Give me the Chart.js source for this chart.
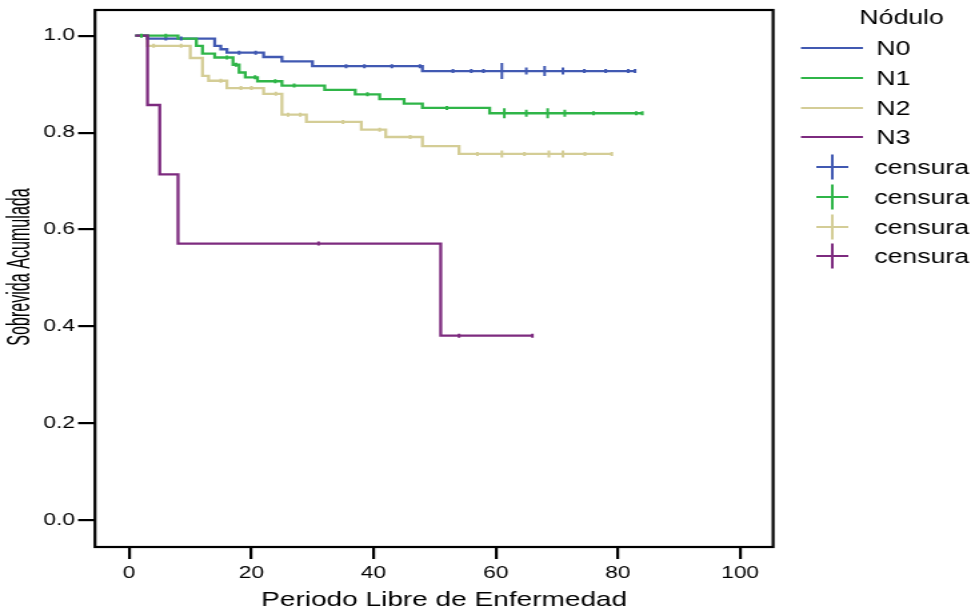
<!DOCTYPE html>
<html>
<head>
<meta charset="utf-8">
<script src="https://cdn.jsdelivr.net/npm/chart.js@4.4.1/dist/chart.umd.min.js"></script>
<style>
html,body{margin:0;padding:0;background:#fff;overflow:hidden;}
#wrap{position:absolute;left:0;top:0;width:734px;height:614px;transform:scaleX(1.33379);transform-origin:0 0;}
#c{display:block;width:734px;height:614px;}
</style>
</head>
<body>
<div id="wrap"><canvas id="c" width="734" height="614"></canvas></div>
<script>
// ---- data ----
const seriesNames = ["N0", "N1", "N2", "N3"];
const legendTitle = "Nódulo";
const censorLabel = "censura";
const xTitle = "Periodo Libre de Enfermedad";
const yTitle = "Sobrevida Acumulada";
const xTicks = [0, 20, 40, 60, 80, 100];
const yTicks = [0.0, 0.2, 0.4, 0.6, 0.8, 1.0];

// step curves: times and survival after each time
const n0Times = [1, 3, 14, 15, 16, 22, 25, 30, 48, 83];
const n0Surv  = [1.0, 0.994, 0.979, 0.972, 0.965, 0.956, 0.947, 0.937, 0.927, 0.927];
const n1Times = [1, 8, 11, 12, 14, 17, 18, 19, 21, 25, 32, 37, 41, 45, 48, 59, 84];
const n1Surv  = [1.0, 0.994, 0.979, 0.963, 0.955, 0.940, 0.924, 0.914, 0.906, 0.897, 0.888, 0.879, 0.869, 0.860, 0.851, 0.840, 0.840];
const n2Times = [1, 3, 10, 12, 13, 16, 22, 25, 29, 38, 42, 48, 54, 79];
const n2Surv  = [1.0, 0.979, 0.954, 0.917, 0.907, 0.892, 0.880, 0.837, 0.822, 0.806, 0.791, 0.772, 0.756, 0.756];
const n3Times = [1, 3, 5, 8, 51, 66];
const n3Surv  = [1.0, 0.857, 0.714, 0.571, 0.381, 0.381];

// censored observations (time) and how many coincide there
const n0Cens = [6, 8.5, 18, 20.7, 35.5, 38.5, 43, 47.6, 53, 56, 58, 61, 65, 68, 71, 74.5, 78, 81.7, 82.8];
const n0CensN = [1, 1, 1, 1, 1, 1, 1, 1, 1, 1, 1, 4, 2, 3, 2, 1, 1, 1, 1];
const n1Cens = [2, 6, 16, 17.5, 20.6, 23.9, 27, 39, 52, 61.4, 65, 68.5, 71.3, 76, 83, 84];
const n1CensN = [1, 1, 1, 1, 1, 1, 1, 1, 1, 3, 2, 3, 2, 1, 1, 1];
const n2Cens = [4, 8.5, 15, 18.3, 20, 24, 26, 28, 35, 41, 46, 57, 61, 64.7, 68.7, 71, 74.6, 79];
const n2CensN = [1, 1, 1, 1, 1, 1, 1, 1, 1, 1, 1, 1, 2, 1, 2, 2, 1, 1];
const n3Cens = [31, 54, 66];
const n3CensN = [1, 1, 1];

// ---- styling ----
const colors = ["#4159b2", "#2fb548", "#d4cd96", "#7d2b7f"];
const FONT = "'Liberation Sans', Arial, sans-serif";

function curve(times, surv) {
  return times.map((t, i) => ({ x: t, y: surv[i] }));
}
function survAt(times, surv, t) {
  let v = surv[0];
  for (let i = 0; i < times.length; i++) { if (times[i] <= t) v = surv[i]; }
  return v;
}
function censPoints(cens, times, surv) {
  return cens.map(t => ({ x: t, y: survAt(times, surv, t) }));
}
const sizeFor = [0, 2, 3.5, 5, 8];

const curves = [[n0Times, n0Surv], [n1Times, n1Surv], [n2Times, n2Surv], [n3Times, n3Surv]];
const cens = [[n0Cens, n0CensN], [n1Cens, n1CensN], [n2Cens, n2CensN], [n3Cens, n3CensN]];
const lineOrder = [2, 1, 3, 0];

const datasets = [];
curves.forEach((c, i) => {
  datasets.push({
    label: seriesNames[i],
    data: curve(c[0], c[1]),
    showLine: true,
    stepped: true,
    borderColor: colors[i],
    backgroundColor: colors[i],
    borderWidth: 2.3,
    pointRadius: 0,
    pointHoverRadius: 0,
    fill: false,
    order: lineOrder[i] + 10
  });
});
cens.forEach((c, i) => {
  datasets.push({
    label: censorLabel,
    data: censPoints(c[0], curves[i][0], curves[i][1]),
    showLine: false,
    pointStyle: 'line',
    rotation: 90,
    pointRadius: c[1].map(n => sizeFor[Math.min(n, 4)]),
    pointBorderWidth: 2,
    borderColor: colors[i],
    backgroundColor: colors[i],
    order: lineOrder[i]
  });
});

const decorPlugin = {
  id: 'decor',
  afterDraw(chart) {
    const ctx = chart.ctx;
    const a = chart.chartArea;
    ctx.save();
    // frame
    ctx.strokeStyle = '#000';
    ctx.lineWidth = 2.2;
    ctx.strokeRect(a.left, a.top, a.right - a.left, a.bottom - a.top);
    // axis titles
    ctx.fillStyle = '#000';
    ctx.textAlign = 'center';
    ctx.textBaseline = 'middle';
    ctx.font = "21px " + FONT;
    ctx.fillText(xTitle, 333, 600);
    ctx.save();
    ctx.translate(16, 267);
    ctx.rotate(-Math.PI / 2);
    ctx.scale(0.7, 1);
    ctx.font = "23px " + FONT;
    ctx.fillText(yTitle, 0, 0);
    ctx.restore();
    // legend
    ctx.font = "20px " + FONT;
    ctx.textAlign = 'center';
    ctx.fillText(legendTitle, 676, 18);
    ctx.textAlign = 'left';
    const lineYs = [48, 78, 108, 137];
    seriesNames.forEach((n, i) => {
      ctx.strokeStyle = colors[i];
      ctx.lineWidth = 2;
      ctx.beginPath();
      ctx.moveTo(600.5, lineYs[i]);
      ctx.lineTo(647, lineYs[i]);
      ctx.stroke();
      ctx.fillStyle = '#000';
      ctx.fillText(n, 657, lineYs[i] + 1);
    });
    const crossYs = [167, 197, 227, 256];
    seriesNames.forEach((n, i) => {
      ctx.strokeStyle = colors[i];
      ctx.lineWidth = 2;
      ctx.beginPath();
      ctx.moveTo(612, crossYs[i]);
      ctx.lineTo(636, crossYs[i]);
      ctx.moveTo(624, crossYs[i] - 12.5);
      ctx.lineTo(624, crossYs[i] + 12.5);
      ctx.stroke();
      ctx.fillStyle = '#000';
      ctx.fillText(censorLabel, 655.5, crossYs[i] + 1);
    });
    ctx.restore();
  }
};

new Chart(document.getElementById('c'), {
  type: 'scatter',
  data: { datasets },
  options: {
    responsive: false,
    animation: false,
    events: [],
    layout: { padding: { top: 7, right: 154.4, bottom: 0, left: 0 } },
    plugins: { legend: { display: false }, tooltip: { enabled: false }, title: { display: false } },
    scales: {
      x: {
        type: 'linear',
        min: -5.6,
        max: 105.4,
        afterBuildTicks: s => { s.ticks = xTicks.map(v => ({ value: v })); },
        afterFit: s => { s.height = 67; s.paddingLeft = 0; s.paddingRight = 0; },
        ticks: { color: '#000', font: { family: FONT, size: 17 }, padding: 4, maxRotation: 0, callback: v => String(v) },
        grid: { drawOnChartArea: false, drawTicks: true, tickLength: 12, color: '#000', lineWidth: 2.2 },
        border: { display: false }
      },
      y: {
        type: 'linear',
        min: -0.055,
        max: 1.053,
        afterBuildTicks: s => { s.ticks = yTicks.map(v => ({ value: v })); },
        afterFit: s => { s.width = 71.2; s.paddingTop = 0; s.paddingBottom = 0; },
        ticks: { color: '#000', font: { family: FONT, size: 17, lineHeight: 0.7 }, padding: 2.3, callback: v => Number(v).toFixed(1) },
        grid: { drawOnChartArea: false, drawTicks: true, tickLength: 12.7, color: '#000', lineWidth: 2.2 },
        border: { display: false }
      }
    }
  },
  plugins: [decorPlugin]
});
</script>
</body>
</html>
